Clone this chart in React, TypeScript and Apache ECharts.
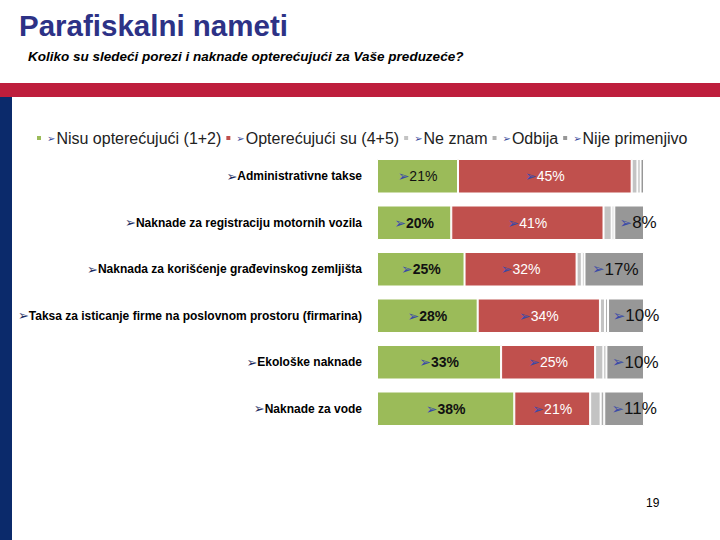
import React, { useEffect, useRef } from 'react';
import * as echarts from 'echarts';

const categories = [
  'Administrativne takse',
  'Naknade za registraciju motornih vozila',
  'Naknada za korišćenje građevinskog zemljišta',
  'Taksa za isticanje firme na poslovnom prostoru (firmarina)',
  'Ekološke naknade',
  'Naknade za vode',
];
const seriesNames = [
  'Nisu opterećujući (1+2)',
  'Opterećujući su (4+5)',
  'Ne znam',
  'Odbija',
  'Nije primenjivo',
];
const nisuOpterecujuci = [21, 20, 25, 28, 33, 38];
const opterecujuciSu = [45, 41, 32, 34, 25, 21];
const neZnam = [1.5, 2.2, 1.5, 1.4, 2.2, 2.9];
const odbija = [0.8, 0.7, 0.75, 0.85, 0.8, 1.0];
const nijePrimenjivo = [0.9, 8, 17, 10, 10, 11];

const ARIAL = '"Liberation Sans", Arial, sans-serif';
const DEJAVU = '"DejaVu Sans", sans-serif';
const ARROW = '\u27A2';

export default function App() {
  const ref = useRef<HTMLDivElement>(null);
  useEffect(() => {
    const chart = echarts.init(ref.current!, null, { renderer: 'svg' });
    const all = [nisuOpterecujuci, opterecujuciSu, neZnam, odbija, nijePrimenjivo];
    const totals = categories.map((_, i) => all.reduce((s, arr) => s + arr[i], 0));
    const norm = (arr: number[]) => arr.map((v, i) => (v / totals[i]) * 100);
    const colors = ['#9bbb59', '#c0504d', '#c3c3c3', '#b0b0b0', '#979797'];
    const nijeShift = [0, 9, 1, 10, 10, 10];

    const base = (idx: number) => ({
      name: seriesNames[idx],
      type: 'bar',
      stack: 'total',
      barWidth: 34.5,
      data: norm(all[idx]),
      itemStyle: { color: colors[idx], borderColor: '#ffffff', borderWidth: 1 },
    });

    const option: any = {
      animation: false,
      backgroundColor: '#ffffff',
      legend: {
        left: 30,
        top: 125,
        itemWidth: 6,
        itemHeight: 6,
        itemGap: 3,
        icon: 'rect',
        data: seriesNames,
        formatter: (name: string) => `{a|${ARROW}}{b|${name}}`,
        textStyle: {
          rich: {
            a: { color: '#33489a', fontSize: 10, fontFamily: DEJAVU, padding: [0, 1, 0, 0] },
            b: { color: '#222222', fontSize: 16, fontFamily: ARIAL },
          },
        },
      },
      grid: { left: 377, right: 76, top: 153, bottom: 108, containLabel: false, outerBoundsMode: 'none' },
      xAxis: { type: 'value', min: 0, max: 100, show: false },
      yAxis: {
        type: 'category',
        data: categories,
        inverse: true,
        axisLine: { show: false },
        axisTick: { show: false },
        axisLabel: {
          margin: 15,
          formatter: (v: string) => `{a|${ARROW}}{b|${v}}`,
          rich: {
            a: { color: '#1c2a5e', fontSize: 13, fontFamily: DEJAVU },
            b: { color: '#000000', fontSize: 12, fontWeight: 'bold', fontFamily: ARIAL },
          },
        },
      },
      series: [
        {
          ...base(0),
          label: {
            show: true,
            position: 'inside',
            formatter: (p: any) =>
              p.dataIndex === 0
                ? `{a|${ARROW}}{c|${nisuOpterecujuci[p.dataIndex]}%}`
                : `{a|${ARROW}}{b|${nisuOpterecujuci[p.dataIndex]}%}`,
            rich: {
              a: { color: '#3a4aa8', fontSize: 14, fontFamily: DEJAVU },
              b: { color: '#111111', fontSize: 14, fontWeight: 'bold', fontFamily: ARIAL },
              c: { color: '#111111', fontSize: 14, fontFamily: ARIAL },
            },
          },
        },
        {
          ...base(1),
          label: {
            show: true,
            position: 'inside',
            formatter: (p: any) => `{a|${ARROW}}{b|${opterecujuciSu[p.dataIndex]}%}`,
            rich: {
              a: { color: '#3a4aa8', fontSize: 14, fontFamily: DEJAVU },
              b: { color: '#ffffff', fontSize: 14, fontFamily: ARIAL },
            },
          },
        },
        { ...base(2) },
        { ...base(3) },
        {
          ...base(4),
          data: norm(nijePrimenjivo).map((v, i) => ({
            value: v,
            label: { offset: [nijeShift[i], 0] },
          })),
          label: {
            show: true,
            position: 'inside',
            formatter: (p: any) =>
              nijePrimenjivo[p.dataIndex] < 5 ? '' : `{a|${ARROW}}{b|${nijePrimenjivo[p.dataIndex]}%}`,
            rich: {
              a: { color: '#3a4aa8', fontSize: 15, fontFamily: DEJAVU },
              b: { color: '#111111', fontSize: 17, fontFamily: ARIAL },
            },
          },
        },
      ],
      graphic: [
        { type: 'rect', shape: { x: 0, y: 83, width: 720, height: 14 }, style: { fill: '#be1e3c' }, silent: true },
        { type: 'rect', shape: { x: 0, y: 97, width: 12, height: 443 }, style: { fill: '#0b2a6b' }, silent: true },
        {
          type: 'text',
          x: 19,
          y: 25,
          style: {
            text: 'Parafiskalni nameti',
            fill: '#2d3286',
            font: `bold 29.5px ${ARIAL}`,
            verticalAlign: 'middle',
          },
        },
        {
          type: 'text',
          x: 28,
          y: 56,
          style: {
            text: 'Koliko su sledeći porezi i naknade opterećujući za Vaše preduzeće?',
            fill: '#000000',
            font: `italic bold 13.5px ${ARIAL}`,
            verticalAlign: 'middle',
          },
        },
        {
          type: 'text',
          x: 646,
          y: 503,
          style: { text: '19', fill: '#000000', font: `12px ${ARIAL}`, verticalAlign: 'middle' },
        },
      ],
    };
    chart.setOption(option);
    return () => chart.dispose();
  }, []);
  return <div ref={ref} style={{ position: 'fixed', left: 0, top: 0, width: 720, height: 540 }} />;
}
